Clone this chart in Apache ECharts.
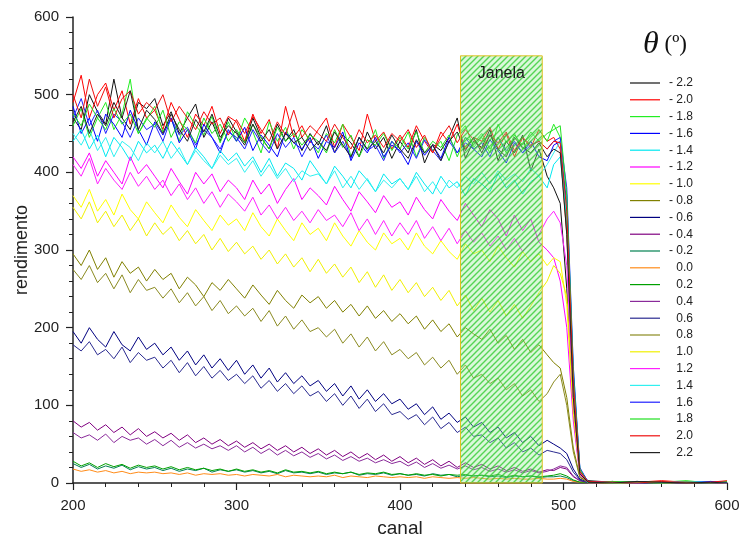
<!DOCTYPE html>
<html>
<head>
<meta charset="utf-8">
<script src="https://cdn.jsdelivr.net/npm/echarts@6/dist/echarts.min.js"></script>
<style>
html,body{margin:0;padding:0;background:#fff;}
#chart{width:744px;height:537px;}
</style>
</head>
<body>
<div id="chart"></div>
<script>
// channels (x values)
const channels = [200,205,210,215,220,225,230,235,240,245,250,255,260,265,270,275,280,285,290,295,
  300,305,310,315,320,325,330,335,340,345,350,355,360,365,370,375,380,385,390,395,
  400,405,410,415,420,425,430,435,440,445,450,455,460,465,470,475,480,485,490,
  494,498,502,506,510,515,530,545,560,575,590,600];

const seriesNames = ['- 2.2','- 2.0','- 1.8','- 1.6','- 1.4','- 1.2','- 1.0','- 0.8','- 0.6','- 0.4','- 0.2','0.0',
  '0.2','0.4','0.6','0.8','1.0','1.2','1.4','1.6','1.8','2.0','2.2'];

const yM22 = [470,455,500,478,462,520,470,455,490,482, 495,460,478,450,470,488,445,465,440,470,
  452,438,470,445,430,462,440,455,428,450, 435,460,425,448,438,420,452,430,445,418,
  440,425,455,412,436,428,445,470,418,440, 432,455,415,440,425,448,402,430,395,
  380,360,250,90,12, 3,1,2,0,2,1,0];
const yM20 = [490,525,470,500,515,480,505,462,495,470, 480,455,490,468,445,475,460,485,450,472,
  465,440,475,450,468,430,485,445,460,438, 455,470,432,462,445,428,475,440,452,430,
  448,432,460,440,425,452,438,462,430,445, 440,458,430,450,420,445,432,455,440,
  445,430,320,120,15, 2,0,1,3,1,0,2];
const yM18 = [460,482,445,470,490,455,475,520,450,468, 485,452,470,440,478,460,448,472,438,465,
  440,470,452,425,465,440,458,430,455,442, 425,450,438,462,420,445,430,455,418,440,
  430,452,420,445,428,440,415,448,460,432, 445,425,462,438,450,430,445,455,440,
  462,445,330,110,14, 1,2,0,1,3,0,1];
const yM16 = [485,450,470,440,475,462,445,480,455,435, 465,448,470,438,455,430,462,445,425,455,
  440,458,428,448,435,420,452,438,430,445, 418,440,432,452,415,438,425,445,420,435,
  428,410,440,422,435,418,445,425,438,430, 420,442,428,412,438,425,440,420,415,
  435,440,360,140,18, 2,1,0,2,1,1,0];
const yM14 = [440,455,430,448,420,445,432,415,440,425, 435,418,440,425,410,432,420,405,428,415,
  425,408,420,400,418,395,412,405,390,415, 400,385,408,395,380,402,390,375,398,385,
  392,378,400,385,372,395,380,388,370,392, 385,375,398,380,390,372,388,395,380,
  410,420,340,130,16, 1,0,2,1,0,2,1];
const yM12 = [420,405,425,395,415,400,385,420,398,410, 395,380,405,388,372,400,385,398,375,390,
  380,365,390,372,385,360,378,392,365,380, 370,358,382,365,350,375,362,348,370,355,
  362,345,368,352,340,365,350,338,360,345, 330,352,340,318,345,325,340,310,300,
  290,260,200,80,10, 1,2,0,1,0,1,2];
const yM10 = [370,355,378,350,365,345,372,352,340,362, 348,335,358,342,330,352,338,325,345,332,
  340,325,348,330,318,340,325,312,335,320, 328,312,335,318,305,325,310,300,322,308,
  315,300,322,305,295,312,298,288,308,295, 300,285,305,290,278,298,285,295,280,
  290,285,230,90,12, 0,1,2,0,1,0,1];
const yM08 = [295,280,300,275,290,265,285,270,278,260, 275,262,270,250,265,255,240,258,248,262,
  250,238,255,242,230,248,235,225,242,232, 240,225,235,220,230,215,228,212,222,208,
  218,205,215,198,210,195,205,188,200,192, 185,198,180,190,172,185,168,178,165,
  155,148,110,45,8, 1,0,1,2,0,1,0];
const yM06 = [195,180,200,185,175,195,178,170,188,172, 180,165,175,158,170,152,165,148,160,145,
  158,140,152,135,148,130,142,128,138,125, 132,118,128,112,125,108,120,105,115,102,
  108,95,102,88,98,82,90,78,85,72, 78,65,72,58,65,52,60,48,55,
  50,45,38,18,5, 1,0,2,0,1,0,1];
const yM04 = [80,72,78,68,75,65,72,62,70,60, 66,58,64,55,62,52,58,50,56,48,
  54,46,52,44,50,42,48,40,46,38, 44,36,42,34,40,32,38,30,36,28,
  34,26,32,24,30,22,28,20,26,20, 24,18,22,16,20,15,18,14,17,
  16,20,18,8,3, 0,1,0,1,0,1,0];
const yM02 = [25,20,24,18,22,19,23,17,21,18, 20,16,19,15,18,16,19,14,17,15,
  17,14,16,13,15,12,16,13,14,12, 14,11,13,12,14,10,12,11,13,10,
  12,10,11,9,12,10,11,8,10,9, 10,8,9,7,9,8,9,7,8,
  8,9,7,3,1, 0,1,0,0,1,0,0];
const y00 = [18,15,17,14,16,13,15,12,14,13, 14,12,13,11,13,10,12,11,12,10,
  11,9,11,10,9,11,8,10,9,8, 9,8,10,7,9,8,7,9,8,7,
  8,7,8,6,8,7,6,7,6,7, 6,5,6,5,6,5,5,6,5,
  5,6,5,2,1, 0,0,1,0,0,1,0];
const yP02 = [28,22,26,20,25,21,24,19,23,20, 22,18,21,17,20,17,19,16,18,15,
  18,15,17,14,16,13,17,14,15,13, 15,12,14,12,14,11,13,12,14,11,
  12,10,12,10,11,9,11,10,11,9, 10,9,11,8,10,8,9,8,9,
  10,12,9,4,1, 1,0,0,1,0,0,1];
const yP04 = [65,58,62,55,63,52,60,55,58,50, 56,48,55,46,52,45,50,44,48,42,
  48,40,46,38,44,36,42,35,40,33, 38,31,36,29,34,28,32,26,30,25,
  28,22,27,20,25,19,23,18,22,17, 20,15,18,14,17,13,16,13,15,
  18,22,20,9,3, 1,0,0,1,0,1,0];
const yP06 = [178,170,182,165,172,160,175,155,168,158, 162,148,158,142,155,138,150,135,145,132,
  140,128,138,122,132,118,128,115,125,112, 118,105,115,100,112,96,108,92,102,88,
  92,82,88,75,85,70,78,65,72,60, 62,52,58,45,52,40,45,36,42,
  40,38,30,14,4, 0,1,0,1,0,0,1];
const yP08 = [275,262,280,258,270,250,268,245,262,248, 252,238,250,232,245,228,240,222,235,218,
  228,215,225,208,222,202,215,198,210,195, 200,188,198,180,192,175,188,170,182,165,
  172,160,168,152,162,148,158,140,152,135, 140,128,135,120,128,112,120,105,115,
  130,140,100,40,7, 1,0,1,0,2,0,1];
const yP10 = [355,340,362,335,350,330,345,325,340,318, 335,320,330,312,325,308,320,300,315,298,
  310,295,305,288,300,282,295,278,290,272, 288,270,282,265,278,258,272,252,268,248,
  262,245,258,240,252,235,248,228,242,222, 238,220,235,215,230,212,228,245,260,
  280,270,240,110,15, 1,0,0,2,0,1,0];
const yP12 = [410,395,418,385,405,390,378,400,382,395, 378,390,370,385,365,380,360,375,355,372,
  362,350,368,345,358,340,355,338,350,335, 352,338,345,330,348,325,340,320,338,318,
  335,320,338,315,330,312,328,308,325,310, 322,305,318,300,315,298,310,320,340,
  350,335,280,110,14, 0,1,0,1,1,0,0];
const yP14 = [450,435,455,428,445,420,440,432,415,438, 425,440,418,432,410,428,415,405,422,410,
  418,400,415,395,410,392,405,388,402,395, 398,385,402,380,395,378,392,375,390,380,
  392,378,395,375,388,372,390,380,395,385, 400,385,402,390,398,388,405,395,410,
  425,440,370,150,18, 2,0,1,0,1,2,0];
const yP16 = [470,495,460,480,450,475,465,445,470,455, 462,440,470,448,458,435,455,445,430,452,
  445,430,455,438,425,450,432,445,420,440, 430,448,425,440,418,445,428,435,415,440,
  425,438,418,442,428,415,440,425,445,430, 438,420,445,428,440,425,435,440,430,
  440,445,380,150,20, 1,2,0,1,0,2,1];
const yP18 = [475,460,488,470,455,482,462,475,450,470, 458,480,445,465,455,438,470,450,462,440,
  455,438,462,445,430,458,440,450,435,448, 440,425,455,432,448,420,442,435,450,428,
  445,430,452,425,440,432,448,420,445,438, 450,430,445,425,448,435,452,440,450,
  455,460,370,140,18, 0,2,1,0,1,0,2];
const yP20 = [500,470,520,485,510,470,495,505,475,490, 480,500,465,485,470,455,478,462,470,448,
  468,450,472,455,440,465,448,480,445,460, 450,440,462,445,430,455,438,448,432,450,
  440,455,432,448,425,445,460,438,455,442, 430,448,438,452,428,445,435,440,430,
  440,438,350,130,15, 2,1,0,2,0,1,3];
const yP22 = [465,485,450,475,460,490,470,505,455,480, 468,450,475,455,440,468,452,475,445,460,
  450,435,462,440,455,430,450,438,445,428, 440,428,452,435,420,445,430,440,425,448,
  430,418,442,425,435,415,440,452,428,445, 425,448,430,420,445,432,425,438,420,
  430,425,320,110,12, 1,0,2,1,0,1,0];

const seriesValues = [yM22,yM20,yM18,yM16,yM14,yM12,yM10,yM08,yM06,yM04,yM02,y00,
  yP02,yP04,yP06,yP08,yP10,yP12,yP14,yP16,yP18,yP20,yP22];

const seriesColors = ['#111111','#ff0000','#22ee22','#0000ff','#00e8f0','#ff00ff','#ffff00','#808000','#000080','#800080','#008050','#ff8c1a',
  '#00a000','#8a2a9a','#2a2a90','#8a8a20','#f0f000','#ff20ff','#30f0f0','#2020ff','#20e020','#ee1010','#222222'];

const janelaX = [437, 487];
const janelaTop = 550;

// hatch pattern
const pc = document.createElement('canvas');
pc.width = 6; pc.height = 6;
const g = pc.getContext('2d');
g.fillStyle = 'rgba(150,235,150,0.35)';
g.fillRect(0,0,6,6);
g.strokeStyle = 'rgba(40,200,40,0.75)';
g.lineWidth = 1.4;
g.beginPath();
g.moveTo(0,6); g.lineTo(6,0);
g.moveTo(-3,3); g.lineTo(3,-3);
g.moveTo(3,9); g.lineTo(9,3);
g.stroke();

const series = seriesNames.map((n, i) => ({
  name: n,
  type: 'line',
  data: channels.map((c, j) => [c, seriesValues[i][j]]),
  showSymbol: false,
  symbol: 'none',
  lineStyle: { width: 1, color: seriesColors[i] },
  itemStyle: { color: seriesColors[i] },
  z: 2,
  animation: false
}));

series.push({
  name: 'janela',
  type: 'line',
  data: [],
  z: 10,
  markArea: {
    silent: true,
    z: 10,
    itemStyle: { color: { image: pc, repeat: 'repeat' }, borderColor: '#e0c020', borderWidth: 1 },
    label: { show: true, position: 'insideTop', distance: 10, color: '#1a1a1a', fontSize: 16, fontFamily: 'Liberation Sans, Arial' },
    data: [[{ name: 'Janela', xAxis: janelaX[0], yAxis: janelaTop }, { xAxis: janelaX[1], yAxis: 0 }]]
  }
});

const chart = echarts.init(document.getElementById('chart'), null, { renderer: 'canvas' });
chart.setOption({
  animation: false,
  backgroundColor: '#fff',
  textStyle: { fontFamily: 'Liberation Sans, Arial, sans-serif' },
  title: {
    text: '{t|θ}{p| (º)}',
    left: 638, top: 24,
    textStyle: {
      fontWeight: 'normal',
      rich: {
        t: { fontFamily: 'Liberation Serif, DejaVu Serif, serif', fontStyle: 'italic', fontWeight: 'normal', fontSize: 32, color: '#111' },
        p: { fontFamily: 'Liberation Serif, DejaVu Serif, serif', fontWeight: 'normal', fontSize: 23, color: '#111' }
      }
    }
  },
  legend: {
    orient: 'vertical',
    left: 625, top: 72,
    icon: 'rect',
    itemWidth: 30, itemHeight: 1.2, itemGap: 4.8,
    data: seriesNames,
    formatter: n => '{a|' + n + '}',
    textStyle: { color: '#222', fontSize: 12, lineHeight: 12, rich: { a: { width: 28, align: 'right', fontSize: 12, lineHeight: 12, color: '#222' } } }
  },
  grid: { left: 73, right: 17, top: 17, bottom: 54, outerBoundsMode: 'none', containLabel: false },
  xAxis: {
    type: 'value', min: 200, max: 600, interval: 100,
    name: 'canal', nameLocation: 'middle', nameGap: 36, nameMoveOverlap: false,
    nameTextStyle: { fontSize: 19, color: '#222' },
    axisLine: { lineStyle: { color: '#222', width: 1.5 } },
    axisTick: { show: true, length: 7, lineStyle: { color: '#222', width: 1.2 } },
    minorTick: { show: true, splitNumber: 5, length: 4, lineStyle: { color: '#222' } },
    axisLabel: { fontSize: 15, color: '#222', margin: 15 },
    splitLine: { show: false }
  },
  yAxis: {
    type: 'value', min: 0, max: 600, interval: 100,
    name: 'rendimento', nameLocation: 'middle', nameGap: 42, nameMoveOverlap: false,
    nameTextStyle: { fontSize: 18, color: '#222' },
    axisLine: { show: true, lineStyle: { color: '#222', width: 1.5 } },
    axisTick: { show: true, length: 7, lineStyle: { color: '#222', width: 1.2 } },
    minorTick: { show: true, splitNumber: 5, length: 4, lineStyle: { color: '#222' } },
    axisLabel: { fontSize: 15, color: '#222', margin: 14 },
    splitLine: { show: false }
  },
  series: series
});
</script>
</body>
</html>
